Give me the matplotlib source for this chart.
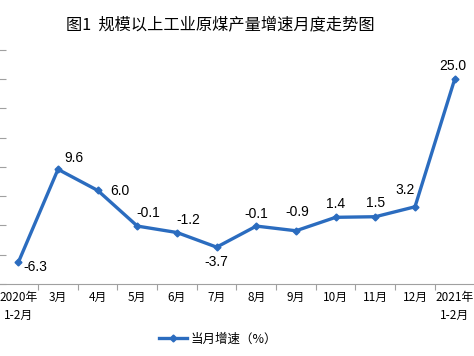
#!/usr/bin/env python3

import matplotlib
matplotlib.use('Agg')
import matplotlib.pyplot as plt

plt.rcParams['font.family'] = ['Noto Sans CJK SC', 'DejaVu Sans']

months = ['2020年\n1-2月', '3月', '4月', '5月', '6月', '7月', '8月',
          '9月', '10月', '11月', '12月', '2021年\n1-2月']
growth = [-6.3, 9.6, 6.0, -0.1, -1.2, -3.7, -0.1, -0.9, 1.4, 1.5, 3.2, 25.0]
label_text = ['-6.3', '9.6', '6.0', '-0.1', '-1.2', '-3.7', '-0.1',
              '-0.9', '1.4', '1.5', '3.2', '25.0']

# label offsets in pixels (dx, dy)
offsets = [(17, -5), (16, 11), (22, -1), (11, 13), (11, 13), (0, -15),
           (0, 12), (1, 19), (0, 13), (0, 14), (-10, 17), (-2, 13)]

blue = '#2b6cbf'

fig = plt.figure(figsize=(4.74, 3.56), dpi=100)
ax = fig.add_axes([-1.5 / 474, 1 - 284 / 356, 476 / 474, 234 / 356])

x = list(range(len(months)))
ax.plot(x, growth, '-', color=blue, lw=2.4, marker='D', ms=3.5,
        label='当月增速（%）')

for i, (v, t) in enumerate(zip(growth, label_text)):
    ax.annotate(t, (i, v), xytext=offsets[i], textcoords='offset pixels',
                ha='center', va='center', fontsize=10,
                family=['Liberation Sans', 'DejaVu Sans'], color='#000000')

ax.set_xlim(-0.5, 11.5)
ax.set_ylim(-10, 30)
ax.set_yticks(range(-10, 31, 5))
ax.set_yticklabels([])
ax.tick_params(axis='y', direction='in', length=5, color='#a0a0a0')

ax.set_xticks([i + 0.5 for i in range(len(months) - 1)], minor=False)
ax.set_xticklabels([])
ax.set_xticks(x, minor=True)
ax.set_xticklabels(months, minor=True, fontsize=8.5, linespacing=1.5)
ax.tick_params(axis='x', which='major', direction='out', length=4,
               color='#a0a0a0')
ax.tick_params(axis='x', which='minor', length=0, pad=5)

for s in ['top', 'right', 'left']:
    ax.spines[s].set_visible(False)
ax.spines['bottom'].set_color('#a0a0a0')
ax.spines['bottom'].set_linewidth(0.8)

fig.text(220 / 474, 1 - 25 / 356, '图1  规模以上工业原煤产量增速月度走势图',
         ha='center', va='center', fontsize=11.7)

fig.legend(loc='center', bbox_to_anchor=(218 / 474, 1 - 339 / 356),
           frameon=False, fontsize=9, handlelength=2.3, handletextpad=0.3)

fig.savefig('out.png', dpi=100)
